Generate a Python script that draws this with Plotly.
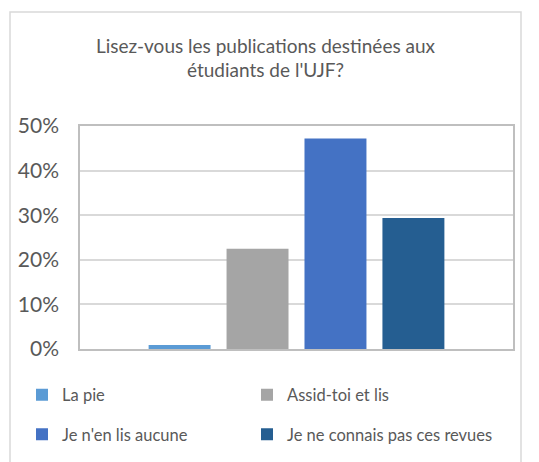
import plotly.graph_objects as go

# ---- data ----
series_names = ["La pie", "Assid-toi et lis", "Je n'en lis aucune", "Je ne connais pas ces revues"]
series_values = [0.009, 0.225, 0.472, 0.294]
series_colors = ["#5B9BD5", "#A5A5A5", "#4472C4", "#255E91"]
category = [""]
y_tickvals = [0, 0.1, 0.2, 0.3, 0.4, 0.5]
y_ticktext = ["0%", "10%", "20%", "30%", "40%", "50%"]
title_text = "Lisez-vous les publications destinées aux<br>étudiants de l'UJF?"

W, H = 539, 462
FONT = "Lato"
TXT = "#595959"

fig = go.Figure()
# legend column layout: left column = legend, right column = legend2
legend_of = ["legend", "legend2", "legend", "legend2"]
for i, (name, val, col, lg) in enumerate(zip(series_names, series_values, series_colors, legend_of)):
    fig.add_trace(go.Bar(x=category, y=[val], name=name, marker=dict(color=col, line=dict(width=0)),
                         legend=lg, legendgroup=f"g{i}"))

ml, mr, mt, mb = 80, 26, 126, 113
pw, ph = W - ml - mr, H - mt - mb

leg_common = dict(orientation="v", xref="container", yref="container",
                  xanchor="left", yanchor="middle", tracegroupgap=15,
                  font=dict(family=FONT, size=16.5, color=TXT), bgcolor="rgba(0,0,0,0)")

fig.update_layout(
    width=W, height=H,
    margin=dict(l=ml, r=mr, t=mt, b=mb, autoexpand=False),
    paper_bgcolor="white", plot_bgcolor="white",
    barmode="group", bargap=0.28, bargroupgap=0.205,
    font=dict(family=FONT, color=TXT),
    title=dict(text=title_text, x=265.5 / W, xref="container", xanchor="center",
               y=1 - 52.5 / H, yref="container", yanchor="middle",
               font=dict(family=FONT, size=19, color=TXT)),
    xaxis=dict(showline=True, linecolor="#BFBFBF", linewidth=1.5, mirror=True,
               showticklabels=False, ticks="", showgrid=False),
    yaxis=dict(range=[0, 0.5], tickvals=y_tickvals, ticktext=y_ticktext,
               showline=True, linecolor="#BFBFBF", linewidth=1.5, mirror=True,
               gridcolor="#D9D9D9", gridwidth=1.5, zeroline=False,
               tickfont=dict(family=FONT, size=21, color=TXT), ticklabelstandoff=15),
    legend=dict(leg_common, x=22 / W, y=1 - 414.5 / H),
    legend2=dict(leg_common, x=247 / W, y=1 - 414.5 / H),
    showlegend=True,
)

# outer chart-area border
fig.add_shape(type="rect", xref="paper", yref="paper",
              x0=(10 - ml) / pw, x1=(521 - ml) / pw,
              y0=(H - mb - 470) / ph, y1=(H - mb - 12) / ph,
              line=dict(color="#D9D9D9", width=1.5), fillcolor="rgba(0,0,0,0)", layer="below")

fig.write_html("out.html", config={"displayModeBar": False},
               post_script="document.body.style.margin='0';")
